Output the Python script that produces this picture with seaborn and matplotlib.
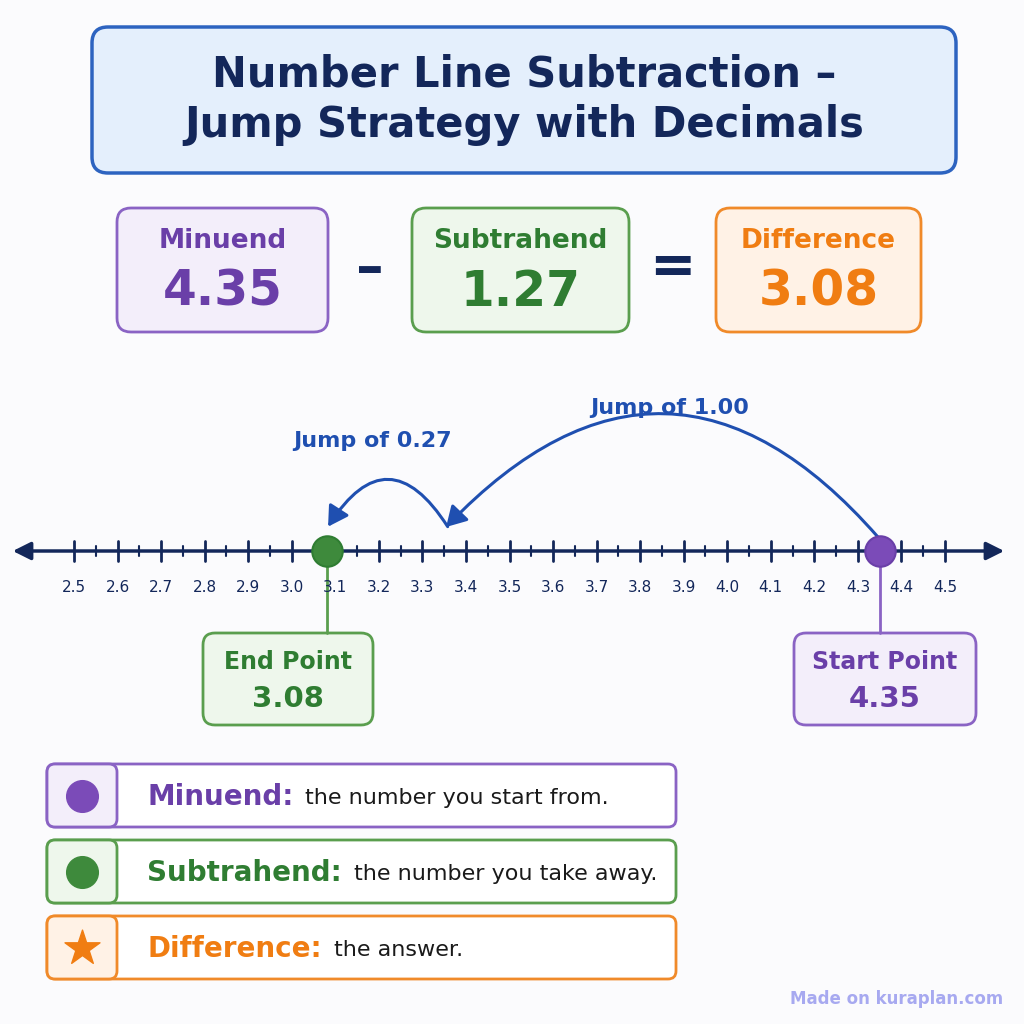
import matplotlib
matplotlib.use("Agg")
import matplotlib.pyplot as plt
import seaborn as sns
from matplotlib.patches import FancyBboxPatch, FancyArrowPatch

sns.set_theme(style="white")
plt.rcParams['font.family'] = ['DejaVu Sans']

title = "Number Line Subtraction –\nJump Strategy with Decimals"
tick_values = [2.5, 2.6, 2.7, 2.8, 2.9, 3.0, 3.1, 3.2, 3.3, 3.4, 3.5, 3.6, 3.7, 3.8, 3.9, 4.0, 4.1, 4.2, 4.3, 4.4, 4.5]
minuend = 4.35
subtrahend = 1.27
difference = 3.08
jumps = [1.00, 0.27]
legend_terms = ["Minuend:", "Subtrahend:", "Difference:"]
legend_desc = ["the number you start from.", "the number you take away.", "the answer."]

PURPLE = "#6a3fa8"; PURPLE_L = "#f3eefa"; PURPLE_E = "#8a63c4"
GREEN = "#2f7d32"; GREEN_L = "#eef7ec"; GREEN_E = "#5a9e4e"
ORANGE = "#f07d12"; ORANGE_L = "#fff2e6"; ORANGE_E = "#f08a2a"
NAVY = "#13275a"; BLUE = "#1f4fb0"

fig = plt.figure(figsize=(10.24, 10.24), dpi=100)
fig.patch.set_facecolor("#fbfbfd")
ax = fig.add_axes([0, 0, 1, 1])
ax.set_xlim(0, 1024); ax.set_ylim(1024, 0); ax.axis("off")

def box(x, y, w, h, fc, ec, lw=2, r=14):
    ax.add_patch(FancyBboxPatch((x, y), w, h, boxstyle=f"round,pad=0,rounding_size={r}",
                                fc=fc, ec=ec, lw=lw))

# title
box(92, 27, 864, 146, "#e4effc", "#2d63c0", lw=2.5, r=16)
ax.text(524, 100, title, ha="center", va="center", fontsize=30, fontweight="bold",
        color=NAVY, linespacing=1.25)

# equation boxes
eq = [(117, 208, 211, 124, PURPLE_L, PURPLE_E, "Minuend", minuend, PURPLE),
      (412, 208, 217, 124, GREEN_L, GREEN_E, "Subtrahend", subtrahend, GREEN),
      (716, 208, 205, 124, ORANGE_L, ORANGE_E, "Difference", difference, ORANGE)]
for x, y, w, h, fc, ec, lab, val, c in eq:
    box(x, y, w, h, fc, ec, lw=2, r=14)
    ax.text(x + w/2, y + 33, lab, ha="center", va="center", fontsize=19, fontweight="bold", color=c)
    ax.text(x + w/2, y + 84, f"{val:.2f}", ha="center", va="center", fontsize=35, fontweight="bold", color=c)
ax.text(370, 270, "–", ha="center", va="center", fontsize=40, fontweight="bold", color=NAVY)
ax.text(672, 268, "=", ha="center", va="center", fontsize=40, fontweight="bold", color=NAVY)

# number line
def px(v):
    return 74 + (v - 2.5) / 0.1 * 43.55
ly = 551
ax.annotate("", xy=(10, ly), xytext=(1007, ly),
            arrowprops=dict(arrowstyle="<|-|>,head_length=0.9,head_width=0.45", color=NAVY, lw=2.5))
for v in tick_values:
    ax.plot([px(v), px(v)], [ly - 10, ly + 10], color=NAVY, lw=2)
    ax.text(px(v), 588, f"{v:.1f}", ha="center", va="center", fontsize=11, color=NAVY)
for v in [t + 0.05 for t in tick_values[:-1]]:
    ax.plot([px(v), px(v)], [ly - 5, ly + 5], color=NAVY, lw=1.5)

start = minuend
mid = minuend - jumps[0]
end = mid - jumps[1]
ax.add_patch(FancyArrowPatch((px(start), ly - 12), (px(mid), ly - 22), connectionstyle="arc3,rad=0.55",
                             arrowstyle="-|>,head_length=12,head_width=7", color=BLUE, lw=2.2))
ax.add_patch(FancyArrowPatch((px(mid) + 5, ly - 22), (px(end), ly - 22), connectionstyle="arc3,rad=0.8",
                             arrowstyle="-|>,head_length=12,head_width=7", color=BLUE, lw=2.2))
ax.text(670, 408, f"Jump of {jumps[0]:.2f}", ha="center", va="center", fontsize=16, fontweight="bold", color=BLUE)
ax.text(373, 441, f"Jump of {jumps[1]:.2f}", ha="center", va="center", fontsize=16, fontweight="bold", color=BLUE)

ax.scatter([px(end)], [ly], s=480, color="#3e8a3c", edgecolor=GREEN, lw=1.5, zorder=5)
ax.scatter([px(start)], [ly], s=480, color="#7b4bb8", edgecolor=PURPLE, lw=1.5, zorder=5)

# callouts
for v, cx, w, fc, ec, c, lab in [(end, 288, 170, GREEN_L, GREEN_E, GREEN, "End Point"),
                                  (start, 885, 182, PURPLE_L, PURPLE_E, PURPLE, "Start Point")]:
    box(cx - w/2, 633, w, 92, fc, ec, lw=2, r=12)
    ax.plot([px(v), px(v)], [ly + 15, 633], color=ec, lw=2)
    ax.text(cx, 662, lab, ha="center", va="center", fontsize=17, fontweight="bold", color=c)
    ax.text(cx, 699, f"{v:.2f}", ha="center", va="center", fontsize=21, fontweight="bold", color=c)

# legend
leg = [(764, PURPLE_E, PURPLE, "#7b4bb8", "o", PURPLE_L), (840, GREEN_E, GREEN, "#3e8a3c", "o", GREEN_L),
       (916, ORANGE_E, ORANGE, ORANGE, "*", ORANGE_L)]
for (y, ec, c, mc, mk, lc), term, desc in zip(leg, legend_terms, legend_desc):
    box(47, y, 629, 63, "white", ec, lw=2, r=8)
    box(47, y, 70, 63, lc, ec, lw=2, r=8)
    ax.scatter([82], [y + 32], s=520 if mk == "o" else 700, marker=mk, color=mc, zorder=5)
    t = ax.text(147, y + 33, term, ha="left", va="center", fontsize=20, fontweight="bold", color=c)
    fig.canvas.draw()
    bb = t.get_window_extent()
    ax.text(bb.x1 + 12, y + 34, desc, ha="left", va="center", fontsize=16, color="#1a1a1a")

ax.text(1003, 999, "Made on kuraplan.com", ha="right", va="center", fontsize=12, fontweight="bold", color="#a7a9f0")

fig.savefig("out.png", dpi=100, facecolor=fig.get_facecolor())
